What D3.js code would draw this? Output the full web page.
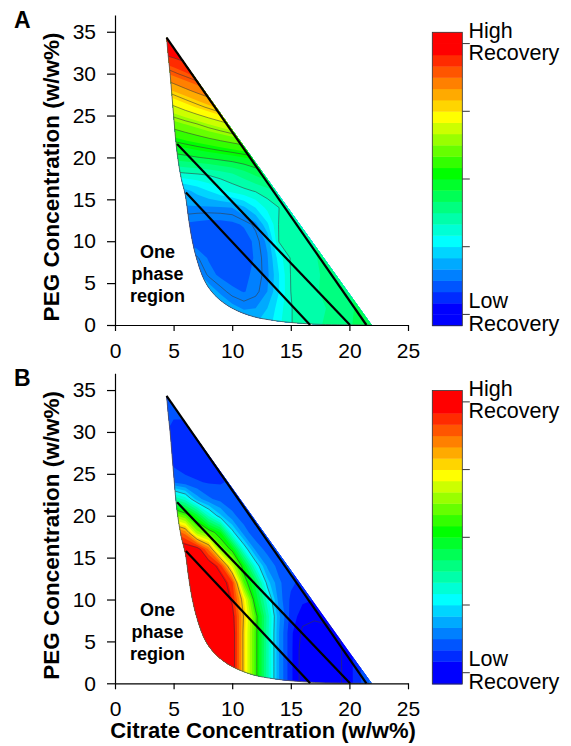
<!DOCTYPE html>
<html>
<head>
<meta charset="utf-8">
<script src="https://cdn.jsdelivr.net/npm/d3@7"></script>
<style>
  body { margin: 0; background: #fff; }
  svg { display: block; }
  text { font-family: "Liberation Sans", Arial, sans-serif; fill: #000; }
  .tick text { font-size: 21px; }
</style>
</head>
<body>
<svg width="571" height="746"></svg>
<script>
const citrate = [4, 5, 6, 7, 8, 9, 10, 11, 12, 13, 14, 15, 16, 17, 18, 19, 20, 21, 22];
const peg = [36, 34, 32, 30, 28, 26, 24, 22, 20, 18, 16, 14, 12, 10, 8, 6, 4, 2, 0];

// binodal curve (citrate, PEG), top to bottom
const binodal = [[4.4, 34.3], [4.55, 32], [4.7, 30], [4.85, 27.5], [5.0, 25], [5.15, 22.5],
  [5.35, 20], [5.65, 17.5], [6.0, 15.5], [6.3, 12.5], [6.6, 10], [7.05, 7.5], [7.75, 5],
  [8.7, 3.3], [10.0, 2.0], [11.8, 1.0], [13.5, 0.55], [15, 0.3], [17, 0.1], [19, 0.03], [21.9, 0]];

const tieLines = [
  [[4.4, 34.3], [21.45, 0]],
  [[5.3, 21.6], [20.05, 0]],
  [[6.05, 15.8], [16.65, 0]]
];

const xTicks = [0, 5, 10, 15, 20, 25];
const yTicks = [0, 5, 10, 15, 20, 25, 30, 35];

// recovery in colour-band units (0 = lowest band, 26 = top of bar); rows follow peg[], columns citrate[]
const recoveryA = [
  [25.7, 25.8, 25.9, 26, 26, 26, 26, 26, 26, 26, 26, 26, 26, 26, 26, 26, 26, 26, 26],
  [25.0, 25.2, 25.4, 25.6, 25.75, 25.85, 26, 26, 26, 26, 26, 26, 26, 26, 26, 26, 26, 26, 26],
  [23.75, 24.1, 24.5, 24.85, 25.05, 25.3, 25.5, 25.65, 25.8, 26, 26, 26, 26, 26, 26, 26, 26, 26, 26],
  [21.7, 22.3, 22.85, 23.4, 23.9, 24.3, 24.65, 24.9, 25.15, 25.35, 25.6, 25.7, 25.8, 25.9, 26, 26, 26, 26, 26],
  [19.5, 20.1, 20.75, 21.35, 21.9, 22.5, 23.05, 23.6, 24.05, 24.4, 24.8, 25.0, 25.2, 25.4, 25.5, 25.6, 25.7, 25.8, 25.9],
  [17.15, 17.8, 18.45, 19.1, 19.7, 20.35, 20.95, 21.55, 22.15, 22.7, 23.25, 23.8, 24.2, 24.5, 24.8, 25, 25.2, 25.4, 25.5],
  [15.15, 15.6, 16.05, 16.5, 17.05, 17.55, 18.1, 18.6, 19.1, 19.6, 20.1, 20.6, 21.1, 21.6, 22, 22.4, 22.8, 23.2, 23.5],
  [13.25, 13.6, 13.95, 14.3, 14.65, 15.0, 15.35, 15.7, 16.05, 16.4, 16.75, 17.1, 17.45, 17.8, 18.1, 18.4, 18.7, 19.0, 19.3],
  [11.0, 11.5, 11.7, 11.95, 12.2, 12.45, 12.7, 13.0, 13.3, 13.6, 13.9, 14.2, 14.5, 14.8, 15.1, 15.4, 15.7, 16.0, 16.3],
  [8.3, 8.6, 8.8, 8.95, 9.15, 9.5, 9.9, 10.5, 11.2, 11.9, 12.5, 13.0, 13.4, 13.8, 14.1, 14.4, 14.7, 15.0, 15.3],
  [5.3, 5.4, 5.7, 6.3, 7.0, 7.7, 8.3, 8.7, 9.1, 9.6, 10.2, 10.8, 11.3, 11.7, 12.0, 12.3, 12.6, 12.9, 13.2],
  [4.6, 5.0, 4.9, 4.85, 4.85, 4.9, 5.0, 5.8, 7.0, 8.3, 9.0, 9.6, 10.0, 10.4, 10.7, 11.0, 11.2, 11.4, 11.6],
  [3.9, 3.9, 3.9, 3.8, 3.7, 3.7, 3.8, 4.1, 4.7, 6.8, 9.1, 9.4, 9.7, 10.0, 10.3, 10.6, 10.9, 11.2, 11.4],
  [4.0, 4.0, 3.8, 3.5, 3.3, 3.2, 3.3, 3.6, 4.2, 5.2, 9.1, 9.5, 9.8, 10.0, 10.2, 10.5, 10.8, 11.1, 11.3],
  [5.0, 5.0, 5.0, 4.6, 3.9, 3.5, 3.4, 3.6, 4.1, 4.9, 7.5, 9.1, 9.6, 9.9, 10.3, 10.6, 11.0, 11.3, 11.5],
  [5.5, 5.5, 5.5, 5.3, 4.35, 3.8, 3.6, 3.8, 4.2, 4.75, 7.0, 9.05, 9.5, 9.8, 10.2, 10.5, 10.9, 11.3, 11.5],
  [5.8, 5.8, 5.8, 5.8, 5.6, 4.8, 4.2, 3.95, 4.3, 5.0, 7.0, 9.0, 9.4, 9.8, 10.3, 10.5, 10.9, 11.4, 11.6],
  [6.0, 6.0, 6.0, 6.0, 6.0, 6.0, 5.3, 4.9, 5.0, 6.0, 7.5, 8.95, 9.4, 9.7, 10.0, 10.4, 10.8, 11.3, 11.6],
  [6.0, 6.0, 6.0, 6.0, 6.0, 6.0, 6.0, 6.0, 6.0, 6.5, 7.8, 8.95, 9.4, 9.8, 10.1, 10.5, 10.9, 11.3, 11.6]
];

const recoveryB = [
  [3.3, 3.3, 3.5, 3.8, 3.8, 3.8, 3.8, 3.8, 3.8, 3.8, 3.8, 3.8, 3.8, 3.8, 3.8, 3.8, 3.8, 3.8, 3.8],
  [3.3, 3.3, 3.8, 3.8, 3.8, 3.8, 3.8, 3.8, 3.8, 3.8, 3.8, 3.8, 3.8, 3.8, 3.8, 3.8, 3.8, 3.8, 3.8],
  [3.3, 3.1, 3.2, 3.8, 3.8, 3.8, 3.8, 3.8, 3.8, 3.8, 3.8, 3.8, 3.8, 3.8, 3.8, 3.8, 3.8, 3.8, 3.8],
  [3.2, 2.7, 2.4, 2.8, 3.6, 4.0, 4.0, 4.0, 4.0, 4.0, 4.0, 4.0, 4.0, 4.0, 4.0, 4.0, 4.0, 4.0, 4.0],
  [3.1, 2.5, 2.2, 2.3, 2.8, 3.6, 4.0, 4.0, 4.0, 4.0, 4.0, 4.0, 4.0, 4.0, 4.0, 4.0, 4.0, 4.0, 4.0],
  [3.4, 2.9, 2.5, 2.4, 2.6, 3.0, 3.6, 4.0, 4.0, 4.0, 4.0, 4.0, 4.0, 4.0, 4.0, 4.0, 4.0, 4.0, 4.0],
  [4.4, 3.9, 3.4, 3.1, 2.9, 2.9, 3.2, 3.7, 4.0, 4.0, 4.0, 4.0, 4.0, 4.0, 4.0, 4.0, 4.0, 4.0, 4.0],
  [11.5, 10, 8.5, 5.5, 4.2, 3.6, 3.3, 3.6, 4.0, 4.2, 4.2, 4.2, 4.2, 4.2, 4.2, 4.2, 4.2, 4.2, 4.2],
  [17.5, 16.5, 15, 12.5, 8.8, 6.2, 4.3, 3.4, 3.0, 2.8, 2.8, 2.9, 3.0, 3.1, 3.3, 3.6, 4.0, 4.4, 4.8],
  [24, 23, 21.5, 16.5, 15, 13, 7.5, 4.5, 3.3, 2.9, 2.8, 2.8, 2.9, 3.0, 3.1, 3.3, 3.6, 4.0, 4.5],
  [26, 25.8, 25.5, 25.2, 21.8, 15.8, 13.55, 8.0, 4.7, 3.6, 3.1, 2.9, 2.9, 3.0, 3.1, 3.2, 3.3, 3.7, 4.5],
  [26, 26, 26, 26, 25.5, 23.5, 17.67, 13.08, 7.9, 4.8, 3.6, 3.0, 2.8, 2.8, 2.8, 2.9, 3.2, 3.6, 4.5],
  [26, 26, 26, 26, 26, 25.3, 23.3, 15.05, 11.55, 6.5, 4.2, 3.2, 2.7, 2.5, 2.5, 2.6, 2.9, 3.5, 4.5],
  [26, 26, 26, 26, 26, 25.8, 24.0, 19, 12.75, 8.5, 4.5, 2.8, 2.2, 2.0, 2.0, 2.1, 2.4, 3.3, 4.5],
  [26, 26, 26, 26, 26, 26, 25, 19.8, 14.6, 9.6, 5.2, 2.6, 1.5, 1.35, 1.45, 1.6, 2.0, 3.2, 4.5],
  [26, 26, 26, 26, 26, 26, 25.5, 19.5, 14.5, 9.5, 5, 2.2, 1.0, 0.8, 0.9, 1.15, 1.7, 3.0, 4.5],
  [26, 26, 26, 26, 26, 26, 25.5, 19.5, 14.5, 9.5, 5, 2.2, 0.8, 0.6, 0.6, 1.0, 1.6, 3.0, 4.5],
  [26, 26, 26, 26, 26, 26, 25.5, 19.5, 14.5, 9.5, 5, 2.2, 0.8, 0.6, 0.6, 1.0, 1.6, 3.0, 4.5],
  [26, 26, 26, 26, 26, 26, 25.5, 19.5, 14.5, 9.5, 5, 2.2, 0.8, 0.6, 0.6, 1.0, 1.6, 3.0, 4.5]
];

// levels of the thin contour lines
const linesA = [4.5, 9, 12, 13.5, 15, 16.5, 18, 19.5, 21, 22.5, 24];
const linesB = [1.2, 7, 14, 20, 24.3];

const bandCount = 26;
const barTicks = [1, 7, 13, 19, 25];
const colorStops = [[1, "#0000ff"], [7, "#00ffff"], [13, "#00ff00"], [18, "#ffff00"], [24, "#ff0000"]];

const svg = d3.select("svg");
const x = d3.scaleLinear().domain([0, 25]).range([115, 408]);
const y = d3.scaleLinear().domain([0, 37]).range([325, 15]);

const bandColor = (i) => {
  if (i <= colorStops[0][0]) return colorStops[0][1];
  for (let k = 1; k < colorStops.length; k++) {
    const [a, ca] = colorStops[k - 1];
    const [b, cb] = colorStops[k];
    if (i <= b) return d3.interpolateRgb(ca, cb)((i - a) / (b - a));
  }
  return colorStops[colorStops.length - 1][1];
};

const toPlot = d3.geoTransform({
  point: function (gx, gy) {
    const c = citrate[0] + (gx - 0.5) * (citrate[1] - citrate[0]);
    const p = peg[0] + (gy - 0.5) * (peg[1] - peg[0]);
    this.stream.point(x(c), y(p));
  }
});
const gridPath = d3.geoPath(toPlot);
const contours = d3.contours().size([citrate.length, peg.length]);

const binodalLine = d3.line()
  .x((d) => x(d[0]))
  .y((d) => y(d[1]))
  .curve(d3.curveCatmullRom);

const drawPanel = (offsetY, values, lineLevels, id, letter) => {
  const g = svg.append("g").attr("transform", `translate(0,${offsetY})`);
  const grid = values.flat();

  g.append("clipPath").attr("id", id)
    .append("path").attr("d", binodalLine(binodal) + "Z");

  const fillG = g.append("g").attr("clip-path", `url(#${id})`);
  fillG.selectAll("path")
    .data(contours.thresholds(d3.range(bandCount))(grid))
    .join("path")
    .attr("d", gridPath)
    .attr("fill", (d) => bandColor(d.value));

  fillG.append("g").selectAll("path")
    .data(contours.thresholds(lineLevels)(grid))
    .join("path")
    .attr("d", gridPath)
    .attr("fill", "none")
    .attr("stroke", "#3a3a3a")
    .attr("stroke-opacity", 0.8)
    .attr("stroke-width", 0.7);

  g.append("path")
    .attr("d", binodalLine(binodal))
    .attr("fill", "none")
    .attr("stroke", "#555")
    .attr("stroke-width", 0.8);

  g.selectAll("line.tie")
    .data(tieLines)
    .join("line")
    .attr("class", "tie")
    .attr("x1", (d) => x(d[0][0]))
    .attr("y1", (d) => y(d[0][1]))
    .attr("x2", (d) => x(d[1][0]))
    .attr("y2", (d) => y(d[1][1]))
    .attr("stroke", "#000")
    .attr("stroke-width", 2.2);

  const xAxisG = g.append("g")
    .attr("transform", `translate(0,${y(0)})`)
    .call(d3.axisBottom(x).tickValues(xTicks).tickSize(6).tickSizeOuter(0).tickPadding(12));
  const yAxisG = g.append("g")
    .attr("transform", `translate(${x(0)},0)`)
    .call(d3.axisLeft(y).tickValues(yTicks).tickSize(8).tickSizeOuter(0).tickPadding(11));
  [xAxisG, yAxisG].forEach((a) => {
    a.attr("font-family", null).attr("font-size", null);
    a.selectAll("path, line").attr("stroke", "#000").attr("stroke-width", 1.2);
  });

  g.append("text")
    .attr("transform", `translate(59,177) rotate(-90)`)
    .attr("text-anchor", "middle")
    .attr("font-weight", "bold")
    .attr("font-size", 22.5)
    .text("PEG Concentration (w/w%)");

  g.append("text")
    .attr("x", 14)
    .attr("y", 28)
    .attr("font-weight", "bold")
    .attr("font-size", 23)
    .text(letter);

  g.append("text")
    .attr("text-anchor", "middle")
    .attr("font-weight", "bold")
    .attr("font-size", 18)
    .selectAll("tspan")
    .data(["One", "phase", "region"])
    .join("tspan")
    .attr("x", 157.5)
    .attr("y", (d, i) => 258 + i * 22)
    .text((d) => d);

  // colour bar
  const barY = d3.scaleLinear().domain([0, bandCount]).range([325.7, 32.3]);
  const barX = 432.3, barW = 30;
  g.append("g").selectAll("rect")
    .data(d3.range(bandCount))
    .join("rect")
    .attr("x", barX)
    .attr("width", barW)
    .attr("y", (d) => barY(d + 1))
    .attr("height", barY(0) - barY(1) + 0.4)
    .attr("fill", bandColor);
  g.append("rect")
    .attr("x", barX).attr("y", barY(bandCount))
    .attr("width", barW).attr("height", barY(0) - barY(bandCount))
    .attr("fill", "none").attr("stroke", "#333").attr("stroke-width", 0.8);
  g.append("g").selectAll("line")
    .data(barTicks)
    .join("line")
    .attr("x1", barX + barW).attr("x2", barX + barW + 7.5)
    .attr("y1", (d) => barY(d)).attr("y2", (d) => barY(d))
    .attr("stroke", "#333").attr("stroke-width", 1);

  const barLabels = [["High", 37.7], ["Recovery", 60], ["Low", 308], ["Recovery", 331]];
  g.append("g").selectAll("text")
    .data(barLabels)
    .join("text")
    .attr("x", 468.5)
    .attr("y", (d) => d[1])
    .attr("font-size", 21.5)
    .text((d) => d[0]);
};

drawPanel(0, recoveryA, linesA, "clipA", "A");
drawPanel(358.3, recoveryB, linesB, "clipB", "B");

svg.append("text")
  .attr("x", 263)
  .attr("y", 738)
  .attr("text-anchor", "middle")
  .attr("font-weight", "bold")
  .attr("font-size", 22)
  .text("Citrate Concentration (w/w%)");
</script>
</body>
</html>
